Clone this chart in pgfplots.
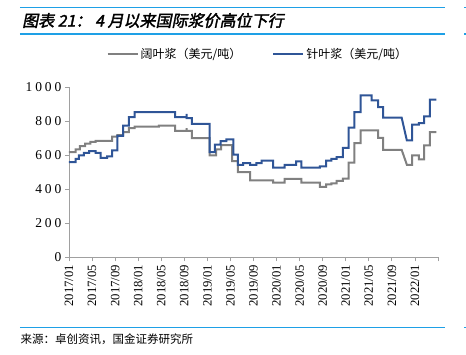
\documentclass[border=0pt]{standalone}
\usepackage{fontspec}
\setmainfont{Liberation Serif}
\newfontfamily\cjk{Noto Sans CJK SC}
\newfontfamily\titlefont[FakeSlant=0.2,FakeBold=2]{Noto Sans CJK SC}
\newfontfamily\yfont[LetterSpace=22]{Liberation Serif}
\usepackage{pgfplots}
\pgfplotsset{compat=1.18}
\definecolor{pblue}{RGB}{47,85,151}
\definecolor{pgray}{RGB}{128,128,128}
\definecolor{tblue}{RGB}{30,160,230}
\definecolor{axgray}{RGB}{160,160,160}
\begin{document}
\begin{tikzpicture}
\path[use as bounding box] (-69pt,-97.7pt) rectangle (397pt,257.3pt);
\begin{axis}[
  at={(0,0)}, anchor=south west,
  scale only axis, width=369pt, height=169.8pt,
  xmin=0, xmax=64, ymin=0, ymax=1000,
  axis x line*=bottom, axis y line*=left,
  axis line style={axgray, line width=0.8pt},
  tick style={axgray, line width=0.8pt}, tick align=outside, major tick length=4pt,
  xtick={0,4,...,64},
  xticklabels={2017/01,2017/05,2017/09,2018/01,2018/05,2018/09,2019/01,2019/05,2019/09,2020/01,2020/05,2020/09,2021/01,2021/05,2021/09,2022/01,{}},
  ytick={0,200,...,1000},
  yticklabels={0,200,400,600,800,1000},
  x tick label style={rotate=90, anchor=east, font=\fontsize{12.7}{13}\selectfont},
  y tick label style={font=\yfont\fontsize{13.5}{14}\selectfont},
  legend style={at={(0.512,1.197)}, anchor=center, draw=none, fill=none,
    font=\cjk\fontsize{12}{13}\selectfont,
    /tikz/every even column/.append style={column sep=29pt}},
  legend columns=2,
  legend image code/.code={\draw[#1] (0pt,0pt) -- (30pt,0pt);},
]
\addplot[pgray, line width=2pt] coordinates {
(0,620)(1.15,620)(1.15,635)(1.9,635)(1.9,655)(2.8,655)(2.8,670)(3.7,670)(3.7,680)(4.6,680)(4.6,685)(7.5,685)(7.5,710)(8.4,710)(8.4,720)(9.4,720)(9.4,737)(10.4,737)(10.4,760)(11.4,760)(11.4,770)(15.6,770)(15.6,775)(18.4,775)(18.4,745)(20.4,745)(20.4,760)(20.4,745)(21.3,745)(21.3,702)(24.4,702)(24.4,600)(25.5,600)(25.5,635)(26.4,635)(26.4,660)(28.3,660)(28.3,567)(29.3,567)(29.3,502)(31.4,502)(31.4,453)(35.4,453)(35.4,440)(37.4,440)(37.4,462)(40.3,462)(40.3,440)(43.5,440)(43.5,415)(44.6,415)(44.6,430)(45.5,430)(45.5,435)(46.4,435)(46.4,450)(47.5,450)(47.5,463)(48.5,463)(48.5,557)(49.5,557)(49.5,672)(50.6,672)(50.6,747)(53.6,747)(53.6,704)(54.5,704)(54.5,633)(57.7,633)(58.6,545)(59.5,545)(59.5,600)(60.7,600)(60.7,576)(61.6,576)(61.6,659)(62.6,659)(62.6,737)(63.7,737)
};
\addlegendentry{阔叶浆（美元/吨）}
\addplot[pblue, line width=2pt] coordinates {
(0,560)(1.15,560)(1.15,580)(1.7,580)(1.7,600)(2.6,600)(2.6,615)(3.5,615)(3.5,625)(4.6,625)(4.6,615)(5.5,615)(5.5,585)(6.6,585)(6.6,595)(7.5,595)(7.5,630)(8.4,630)(8.4,715)(9.4,715)(9.4,775)(10.4,775)(10.4,825)(11.4,825)(11.4,855)(18.4,855)(18.4,825)(20.4,825)(20.4,845)(20.4,820)(21.3,820)(21.3,786)(24.4,786)(24.4,620)(25.3,620)(25.3,663)(26.3,663)(26.3,684)(27.3,684)(27.3,694)(28.5,694)(28.5,604)(29.3,604)(29.3,545)(30.2,545)(30.2,555)(31.4,555)(31.4,545)(32.5,545)(32.5,555)(33.4,555)(33.4,570)(35.4,570)(35.4,528)(37.4,528)(37.4,545)(39.4,545)(39.4,565)(40.3,565)(40.3,528)(43.5,528)(43.5,535)(44.6,535)(44.6,570)(45.5,570)(45.5,580)(46.4,580)(46.4,590)(47.5,590)(47.5,645)(48.5,645)(48.5,763)(49.5,763)(49.5,855)(50.6,855)(50.6,953)(52.5,953)(52.5,924)(53.6,924)(53.6,884)(54.5,884)(54.5,822)(57.7,822)(58.6,688)(59.5,688)(59.5,782)(60.7,782)(60.7,790)(61.6,790)(61.6,830)(62.6,830)(62.6,929)(63.7,929)
};
\addlegendentry{针叶浆（美元/吨）}
\end{axis}
\draw[tblue, line width=1.3pt] (-49pt,250pt) -- (376pt,250pt);
\draw[tblue, line width=1.3pt] (-49pt,223.3pt) -- (376pt,223.3pt);
\draw[tblue, line width=1.3pt] (395pt,250pt) -- (397pt,250pt);
\draw[tblue, line width=1.3pt] (395pt,223.3pt) -- (397pt,223.3pt);
\node[anchor=west, inner sep=0pt] at (-47pt,236.8pt) {\titlefont\fontsize{16}{17}\selectfont 图表 21： 4 月以来国际浆价高位下行};
\draw[tblue, line width=1.3pt] (-49pt,-70pt) -- (376pt,-70pt);
\draw[tblue, line width=1.3pt] (395pt,-70pt) -- (397pt,-70pt);
\node[anchor=west, inner sep=0pt] at (-48.5pt,-81.7pt) {\cjk\fontsize{11.5}{12}\selectfont 来源：卓创资讯，国金证券研究所};
\end{tikzpicture}
\end{document}
